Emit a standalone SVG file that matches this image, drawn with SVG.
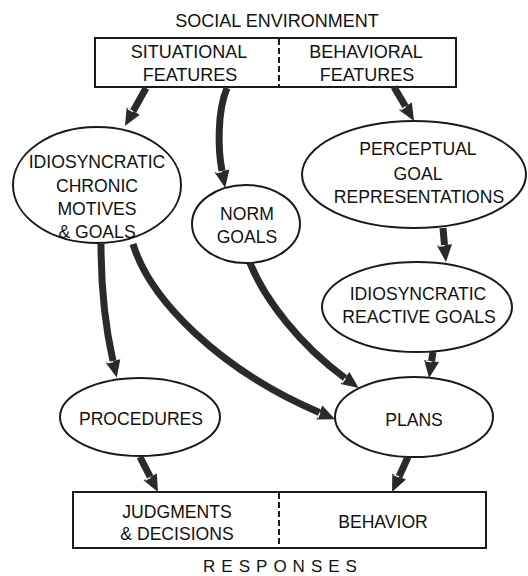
<svg xmlns="http://www.w3.org/2000/svg" width="528" height="576" viewBox="0 0 528 576">
  <style>
    text { font-family: "Liberation Sans", Arial, sans-serif; font-size: 17.6px; fill: #111; text-anchor: middle; }
    .box { fill: #fff; stroke: #1a1a1a; stroke-width: 2; }
    .node { fill: #fff; stroke: #1a1a1a; stroke-width: 2; }
    .div { stroke: #1a1a1a; stroke-width: 2; stroke-dasharray: 6 3; }
    .arrow { fill: none; stroke: #2a2a2a; stroke-width: 7; marker-end: url(#head); }
  </style>
  <defs>
    <marker id="head" markerUnits="userSpaceOnUse" markerWidth="22" markerHeight="20" refX="0" refY="10" orient="auto" overflow="visible">
      <path d="M0,2.5 L17,10 L0,17.5 Z" fill="#2a2a2a"/>
      <path d="M0.6,10 L0.6,16" stroke="#fff" stroke-width="1.2"/>
    </marker>
  </defs>

  <rect width="528" height="576" fill="#fff"/>

  <text x="277" y="27" style="font-size:18px">SOCIAL ENVIRONMENT</text>

  <g id="social-environment">
    <rect class="box" x="95" y="38" width="361" height="49"/>
    <line class="div" x1="279" y1="39" x2="279" y2="86"/>
    <text x="189" y="58" style="font-size:18px">SITUATIONAL</text>
    <text x="190" y="81" style="font-size:18px">FEATURES</text>
    <text x="366" y="58" style="font-size:18px">BEHAVIORAL</text>
    <text x="367" y="81" style="font-size:18px">FEATURES</text>
  </g>

  <g id="chronic-goals">
    <ellipse class="node" cx="97" cy="185" rx="84" ry="58"/>
    <text x="97" y="168">IDIOSYNCRATIC</text>
    <text x="97" y="192">CHRONIC</text>
    <text x="97" y="215">MOTIVES</text>
    <text x="97" y="238">&amp; GOALS</text>
  </g>

  <g id="norm-goals">
    <ellipse class="node" cx="246" cy="224" rx="54" ry="39"/>
    <text x="247" y="220">NORM</text>
    <text x="247" y="243">GOALS</text>
  </g>

  <g id="perceptual-goals">
    <ellipse class="node" cx="414" cy="174.5" rx="112" ry="53.5"/>
    <text x="418" y="155">PERCEPTUAL</text>
    <text x="418" y="180">GOAL</text>
    <text x="419" y="203">REPRESENTATIONS</text>
  </g>

  <g id="reactive-goals">
    <ellipse class="node" cx="417" cy="307" rx="95" ry="45"/>
    <text x="418" y="300">IDIOSYNCRATIC</text>
    <text x="419" y="323">REACTIVE GOALS</text>
  </g>

  <g id="procedures">
    <ellipse class="node" cx="140" cy="417" rx="80" ry="39"/>
    <text x="141" y="425">PROCEDURES</text>
  </g>

  <g id="plans">
    <ellipse class="node" cx="414" cy="417" rx="79" ry="40"/>
    <text x="414" y="426">PLANS</text>
  </g>

  <g id="responses">
    <rect class="box" x="73" y="492" width="413" height="56"/>
    <line class="div" x1="279" y1="493" x2="279" y2="547"/>
    <text x="177" y="518">JUDGMENTS</text>
    <text x="177" y="540">&amp; DECISIONS</text>
    <text x="383" y="528">BEHAVIOR</text>
  </g>

  <text x="283" y="572" style="letter-spacing:6px;font-size:17px">RESPONSES</text>

  <g id="connectors">
    <path class="arrow" d="M146,88 L133.2,111.1"/>
    <path class="arrow" d="M227,88 C217,112 218,150 222,171"/>
    <path class="arrow" d="M394,87 L405.4,106.3"/>
    <path class="arrow" d="M443,228 L444.5,245"/>
    <path class="arrow" d="M433,352 L431.6,361.2"/>
    <path class="arrow" d="M250,263 C265,300 300,345 345,378"/>
    <path class="arrow" d="M133,244 C150,300 220,370 319.4,412.5"/>
    <path class="arrow" d="M101,244 C101,290 106,330 113,361"/>
    <path class="arrow" d="M140,457 L150.2,476.9"/>
    <path class="arrow" d="M408,457 L399.1,476.5"/>
  </g>
</svg>
